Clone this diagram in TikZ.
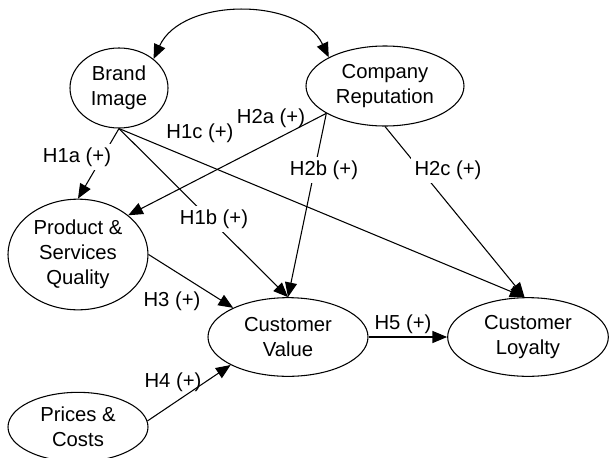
\documentclass[tikz,border=0pt]{standalone}
\usepackage{fontspec}
\setmainfont{Liberation Sans}
\usetikzlibrary{shapes.geometric,arrows.meta}

\begin{document}
\begin{tikzpicture} [x=0.75pt,y=-0.75pt,
  construct/.style={draw,ellipse,line width=0.8pt,inner sep=0pt,align=center,
    font=\fontsize{15.2}{18.8}\selectfont},
  hyp/.style={-{Triangle[length=11pt,width=9pt]},line width=0.8pt},
  both/.style={{Triangle[length=11pt,width=9pt]}-{Triangle[length=11pt,width=9pt]},line width=0.8pt},
  lbl/.style={font=\fontsize{15.2}{18.8}\selectfont,inner sep=1pt},
  gap/.style={lbl,fill=white,inner sep=3pt}]
\useasboundingbox (0,0) rectangle (610,457);

\node [construct,minimum width=73.5pt,minimum height=60pt] (bi) at (119,88) {Brand\\Image};
\node [construct,minimum width=118.5pt,minimum height=60pt] (cr) at (385,86) {Company\\Reputation};
\node [construct,minimum width=105pt,minimum height=83pt] (psq) at (78,254.5) {Product \&\\Services\\Quality};
\node [construct,minimum width=105pt,minimum height=52pt] (pc) at (78,427) {Prices \&\\Costs};
\node [construct,minimum width=120pt,minimum height=59pt] (cv) at (288,337) {Customer\\Value};
\node [construct,minimum width=120.5pt,minimum height=59pt] (cl) at (528,337) {Customer\\Loyalty};

\draw [both] (bi.40) .. controls (182,-3) and (300,-3) .. (cr.153);

\draw [hyp] (bi.south) -- (psq.north);
\draw [hyp] (bi.south) -- (cv.north);
\draw [hyp] (bi.south) -- (cl.95);
\draw [hyp] (cr.205) -- (psq.38);
\draw [hyp] (cr.205) -- (cv.north);
\draw [hyp] (cr.south) -- (cl.95);
\draw [hyp] (psq.east) -- (cv.152);
\draw [hyp] (pc.5) -- (cv.206);
\draw [hyp] (cv.east) -- (cl.west);

\node [gap] (h1a) at (77,157) {H1a (+)};
\node [lbl] (h1c) at (200,133) {H1c (+)};
\node [lbl] (h2a) at (271,118) {H2a (+)};
\node [gap] (h1b) at (214,219) {H1b (+)};
\node [gap] (h2b) at (324,170) {H2b (+)};
\node [gap] (h2c) at (448,170) {H2c (+)};
\node [lbl] (h3) at (172,301) {H3 (+)};
\node [lbl] (h4) at (173,382) {H4 (+)};
\node [lbl] (h5) at (403,324) {H5 (+)};
\end{tikzpicture}
\end{document}
